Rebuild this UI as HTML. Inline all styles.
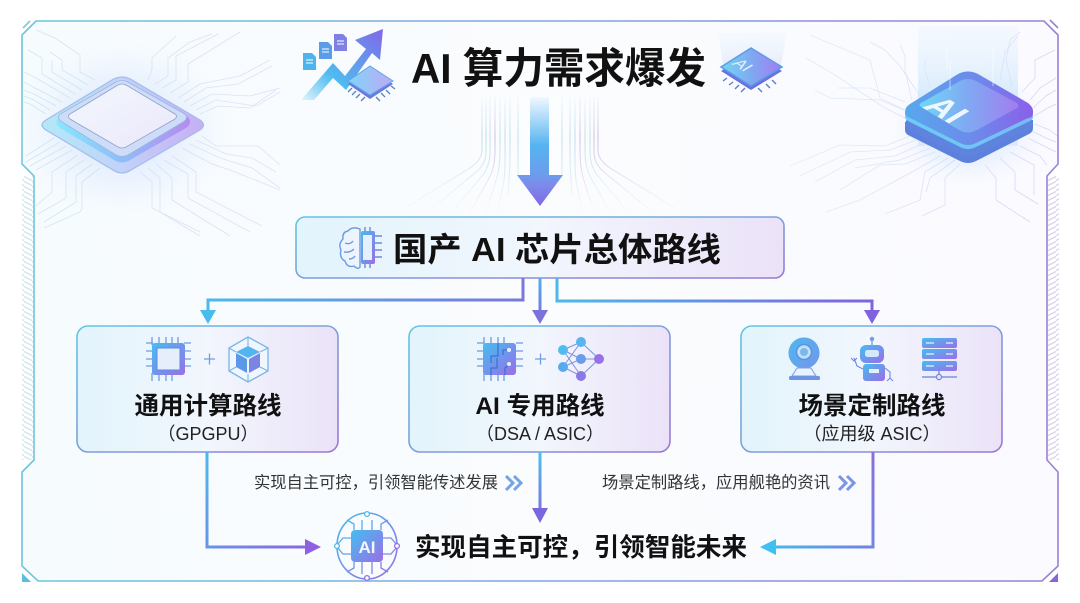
<!DOCTYPE html>
<html lang="zh"><head><meta charset="utf-8"><title>AI 算力需求爆发</title>
<style>html,body{margin:0;padding:0;background:#fff}svg{display:block}
text{font-family:"Liberation Sans","Noto Sans CJK SC",sans-serif;fill:#111}
.b{font-weight:700}</style></head><body>
<svg width="1080" height="603" viewBox="0 0 1080 603" xmlns="http://www.w3.org/2000/svg">
<defs>
<linearGradient id="frameS" gradientUnits="userSpaceOnUse" x1="22" y1="0" x2="1058" y2="0"><stop offset="0" stop-color="#6cc6da"/><stop offset=".5" stop-color="#7fa6e0"/><stop offset="1" stop-color="#9a80d4"/></linearGradient>
<linearGradient id="frameF" x1="0" y1="0" x2="1" y2="0"><stop offset="0" stop-color="#f6fbfe"/><stop offset=".5" stop-color="#fafcfe"/><stop offset="1" stop-color="#fafaff"/></linearGradient>
<linearGradient id="card" x1="0" y1="0" x2="1" y2="0"><stop offset="0" stop-color="#e2f4fc"/><stop offset=".5" stop-color="#f2f6fd"/><stop offset="1" stop-color="#ebe2f8"/></linearGradient>
<linearGradient id="cardS" x1="0" y1="0" x2="1" y2="1"><stop offset="0" stop-color="#62c6e2"/><stop offset="1" stop-color="#9a78d6"/></linearGradient>
<linearGradient id="ic" x1="0" y1="0" x2="1" y2="1"><stop offset="0" stop-color="#45bdf0"/><stop offset="1" stop-color="#9a6ee8"/></linearGradient>
<linearGradient id="conL" gradientUnits="userSpaceOnUse" x1="208" y1="0" x2="523" y2="0"><stop offset="0" stop-color="#4db8ec"/><stop offset="1" stop-color="#7a78dc"/></linearGradient>
<linearGradient id="conR" gradientUnits="userSpaceOnUse" x1="557" y1="0" x2="872" y2="0"><stop offset="0" stop-color="#4db8ec"/><stop offset="1" stop-color="#8064dc"/></linearGradient>
<linearGradient id="conC" gradientUnits="userSpaceOnUse" x1="0" y1="278" x2="0" y2="324"><stop offset="0" stop-color="#55aeea"/><stop offset="1" stop-color="#7c68dc"/></linearGradient>
<linearGradient id="conB" gradientUnits="userSpaceOnUse" x1="0" y1="452" x2="0" y2="523"><stop offset="0" stop-color="#4fc0ee"/><stop offset="1" stop-color="#7c68dc"/></linearGradient>
<linearGradient id="conBL" gradientUnits="userSpaceOnUse" x1="207" y1="452" x2="321" y2="547"><stop offset="0" stop-color="#4db8ec"/><stop offset="1" stop-color="#9060e0"/></linearGradient>
<linearGradient id="conBR" gradientUnits="userSpaceOnUse" x1="873" y1="452" x2="760" y2="547"><stop offset="0" stop-color="#8a70d8"/><stop offset=".5" stop-color="#6f88e0"/><stop offset="1" stop-color="#3fc0f0"/></linearGradient>
<linearGradient id="bigA" gradientUnits="userSpaceOnUse" x1="0" y1="96" x2="0" y2="206"><stop offset="0" stop-color="#f4faff"/><stop offset=".45" stop-color="#55b4f0"/><stop offset=".72" stop-color="#6d9cec"/><stop offset=".8" stop-color="#7c8cec"/><stop offset="1" stop-color="#8268e4"/></linearGradient>
<linearGradient id="rise" x1="0" y1="1" x2="1" y2="0"><stop offset="0" stop-color="#e4f5fd"/><stop offset=".35" stop-color="#4fbcf0"/><stop offset="1" stop-color="#8168e8"/></linearGradient>
<linearGradient id="beam" x1="0" y1="0" x2="0" y2="1"><stop offset="0" stop-color="#e8f4fd" stop-opacity=".4"/><stop offset=".7" stop-color="#c0e0fb" stop-opacity=".95"/><stop offset="1" stop-color="#d8d8fb" stop-opacity=".6"/></linearGradient>
<linearGradient id="beam2" x1="0" y1="0" x2="0" y2="1"><stop offset="0" stop-color="#dff3fc" stop-opacity=".3"/><stop offset="1" stop-color="#d4d8fa"/></linearGradient>
<linearGradient id="lc1" x1="0" y1="0" x2="1" y2="0"><stop offset="0" stop-color="#b4e8f8"/><stop offset=".5" stop-color="#c2d2f8"/><stop offset="1" stop-color="#c6aef4"/></linearGradient>
<linearGradient id="lc2" x1="0" y1="0" x2="1" y2="0"><stop offset="0" stop-color="#86e8fb"/><stop offset=".5" stop-color="#90bcfa"/><stop offset="1" stop-color="#b88af0"/></linearGradient>
<linearGradient id="lc3" x1="0" y1="0" x2="1" y2="1"><stop offset="0" stop-color="#f2f7fd"/><stop offset="1" stop-color="#ebe8fb"/></linearGradient>
<linearGradient id="rcT" x1="0" y1="0" x2="1" y2="0"><stop offset="0" stop-color="#58a8ee"/><stop offset=".6" stop-color="#6f86ea"/><stop offset="1" stop-color="#8c5eea"/></linearGradient>
<linearGradient id="rcF" x1="0" y1="0" x2="1" y2="0"><stop offset="0" stop-color="#70d8f4"/><stop offset=".5" stop-color="#80a8f2"/><stop offset="1" stop-color="#a47cf0"/></linearGradient>
<linearGradient id="scT" x1="0" y1="0" x2="1" y2="0"><stop offset="0" stop-color="#7fd6f6"/><stop offset="1" stop-color="#c0a8f6"/></linearGradient>
<linearGradient id="trL" gradientUnits="userSpaceOnUse" x1="20" y1="0" x2="300" y2="0"><stop offset="0" stop-color="#b4dcea"/><stop offset="1" stop-color="#d4cdf2"/></linearGradient>
<linearGradient id="trR" gradientUnits="userSpaceOnUse" x1="790" y1="0" x2="1058" y2="0"><stop offset="0" stop-color="#d4e8f4"/><stop offset="1" stop-color="#c4c2f0"/></linearGradient>
<radialGradient id="gl"><stop offset="0" stop-color="#a8cdfb" stop-opacity=".7"/><stop offset=".6" stop-color="#d4e2fb" stop-opacity=".4"/><stop offset="1" stop-color="#eef4ff" stop-opacity="0"/></radialGradient>
<radialGradient id="gr"><stop offset="0" stop-color="#7ecdf8" stop-opacity=".75"/><stop offset=".6" stop-color="#b8d8fa" stop-opacity=".3"/><stop offset="1" stop-color="#eef4ff" stop-opacity="0"/></radialGradient>
<pattern id="hL" width="8" height="5" patternUnits="userSpaceOnUse"><path d="M-1 1 L9 6 M-1 -4 L9 1" stroke="#cfe5ec" stroke-width="1.4"/></pattern>
<pattern id="hR" width="8" height="5" patternUnits="userSpaceOnUse"><path d="M-1 6 L9 1 M-1 1 L9 -4" stroke="#d8d4ea" stroke-width="1.4"/></pattern>
<linearGradient id="fanA" gradientUnits="userSpaceOnUse" x1="0" y1="95" x2="0" y2="212"><stop offset="0" stop-color="#b8d8ee" stop-opacity=".1"/><stop offset=".35" stop-color="#a8d0e4" stop-opacity=".8"/><stop offset="1" stop-color="#b8dcec" stop-opacity=".05"/></linearGradient>
<linearGradient id="fanB" gradientUnits="userSpaceOnUse" x1="0" y1="95" x2="0" y2="212"><stop offset="0" stop-color="#c8b8e8" stop-opacity=".1"/><stop offset=".35" stop-color="#bca4de" stop-opacity=".8"/><stop offset="1" stop-color="#cfc4ec" stop-opacity=".05"/></linearGradient>
</defs>

<!-- frame -->
<path d="M36 21 H1044 L1058 35 V164 L1047 176 V460 L1058 472 V566 L1042 581 H38 L22 566 V472 L34 460 V176 L22 164 V35 Z" fill="url(#frameF)" stroke="url(#frameS)" stroke-width="1.6"/>
<path d="M23 28 L30 21" stroke="#84c4d8" stroke-width="1.6" fill="none"/>
<path d="M1050 20 L1058 28" stroke="#9a80d4" stroke-width="1.6" fill="none"/>
<rect x="22" y="176" width="11" height="284" fill="url(#hL)"/>
<rect x="1048" y="176" width="11" height="284" fill="url(#hR)"/>
<path d="M22 573 L31 582 H22 Z" fill="#55c0e2"/>
<path d="M1058 573 L1049 582 H1058 Z" fill="#8a64dc"/>

<!-- left chip traces -->
<ellipse cx="122" cy="128" rx="115" ry="92" fill="url(#gl)" opacity=".75"/>
<g fill="none" stroke="url(#trL)" stroke-width=".8" opacity=".6">
<path d="M95 80 L80 72 V55 L55 38 L36 30"/><path d="M88 85 L62 70 V60 L50 52"/><path d="M82 90 L52 72 V60"/><path d="M75 94 L42 74 V58 L28 50"/>
<path d="M70 98 L36 78 L24 72"/><path d="M62 102 L35 88 L24 82"/><path d="M56 106 L34 94 L24 90"/><path d="M50 110 L34 100 L24 96"/><path d="M46 114 L30 104 L24 102"/>
<path d="M148 80 L152 70 V58 L176 36"/><path d="M155 84 L168 76 V58 L190 42 L212 34"/><path d="M162 88 L176 80 V56 L218 34"/><path d="M170 93 L188 82 V64 L240 32"/>
<path d="M178 98 L200 84 L240 76 L270 60"/><path d="M184 102 L206 88 L238 84 L272 66"/><path d="M190 106 L212 94 L250 96 L280 88"/><path d="M196 110 L216 100 L256 106 L280 92"/><path d="M200 114 L218 106 L250 108 L276 90"/>
<path d="M54 138 L26 156"/><path d="M60 142 L26 162"/><path d="M66 146 L30 166"/><path d="M72 150 L36 170"/><path d="M78 155 L52 172 V192 L36 206"/><path d="M84 160 L66 172 V198 L38 214"/><path d="M92 164 L76 176 V202 L44 222"/><path d="M100 168 L82 182 V208 L80 212 L44 228"/>
<path d="M140 172 L152 182 V208 L200 232"/><path d="M148 168 L160 178 V212 L200 236"/><path d="M156 164 L172 178 V200 L230 236"/><path d="M164 160 L188 174 V198 L250 232"/><path d="M172 156 L196 172 V192 L262 226"/>
<path d="M182 148 L212 164 L230 170 L280 190"/><path d="M190 144 L220 158 L252 168 L280 188"/><path d="M196 140 L226 154 L252 158 L276 172"/><path d="M202 136 L216 146 L258 146 L280 165"/>
</g>

<!-- left chip -->
<path d="M113 170 Q122 176 131 170 L200 130 Q207 125 200 120 L132 80 Q122 74 112 80 L46 120 Q38 125 46 130 Z" fill="url(#lc1)" stroke="#a4bcec" stroke-width="1.3"/>
<path d="M114 160 Q122 165 130 160 L186 128 Q193 123 188 117 L128 84 L60 117 Q53 123 60 128 Z" fill="url(#lc2)"/>
<path d="M116 155 Q122 158 128 155 L183 122 Q190 117 183 113 L128 82 Q122 79 116 82 L62 113 Q55 117 62 122 Z" fill="#cddcf7" stroke="#9ab6e6" stroke-width=".8"/>
<path d="M118 147 Q122 149 126 147 L175 119 Q178 116 175 114 L126 85 Q122 83 118 85 L70 114 Q67 116 70 119 Z" fill="url(#lc3)" stroke="#8f9fca" stroke-width=".8"/>

<!-- right chip traces -->
<g fill="none" stroke="url(#trR)" stroke-width=".8" opacity=".65">
<path d="M905 110 L880 98 L870 60 L810 35"/><path d="M912 100 L905 70 V56 L900 45"/><path d="M920 96 L900 66 L885 50 L870 42"/><path d="M930 88 L925 70 V60"/>
<path d="M905 102 L870 88 L838 88"/><path d="M904 110 L880 100 L830 98 L815 90"/><path d="M905 118 L885 108 L835 75 L806 58"/>
<path d="M1000 80 L1005 52 L1018 36"/><path d="M1012 86 L1006 60 L1010 40 L1020 32"/><path d="M1022 92 L1035 78 V60 L1055 50"/><path d="M1030 100 L1040 88 L1056 78"/><path d="M1033 108 L1046 96 L1056 90"/><path d="M1034 116 L1048 108 L1056 104"/>
<path d="M910 136 L885 146 L840 145 L790 166"/><path d="M916 140 L890 150 L850 152 L800 176"/><path d="M922 144 L895 156 L855 160 L815 182"/><path d="M930 148 L900 160 L855 168"/><path d="M935 152 L905 164 L880 165 L840 190"/><path d="M940 156 L912 172 L860 200 L826 212"/><path d="M948 158 L925 172 L920 200 L885 214"/><path d="M955 160 L930 178 L926 192"/><path d="M960 164 L945 178 V205 L922 216"/>
<path d="M985 165 L996 178 V200 L1030 222"/><path d="M1000 158 L1015 172 V190 L1038 204"/><path d="M1010 152 L1034 165 V195"/><path d="M1020 146 L1040 156 L1047 165"/><path d="M1028 138 L1044 146 L1056 152"/><path d="M1030 130 L1046 138 L1056 142"/><path d="M1034 124 L1050 130 L1057 136"/>
</g>
<ellipse cx="968" cy="128" rx="82" ry="62" fill="url(#gr)" opacity=".7"/>
<rect x="918" y="26" width="100" height="120" fill="url(#beam)" opacity=".75"/>

<!-- right chip -->
<path d="M905 122 V130 Q905 134 910 136 L960 161 Q968 165 976 161 L1029 134 Q1033 132 1033 128 V120 Z" fill="#5c80dc"/>
<path d="M905 125 Q905 120 910 117 L958 92 Q968 88 978 92 L1028 117 Q1033 120 1033 124 V122 Q1033 126 1028 130 L976 155 Q968 159 960 155 L910 131 Q905 128 905 125 Z" fill="#5e84e0"/>
<path d="M905 112 Q905 107 910 104 L958 74 Q968 69 978 74 L1028 103 Q1033 107 1033 111 V116 Q1033 120 1028 122 L976 147 Q968 151 960 147 L910 122 Q905 120 905 116 Z" fill="url(#rcT)"/>
<path d="M905 112 V116 Q905 120 910 122 L960 147 Q968 151 976 147 L1028 122 Q1033 120 1033 116 V112 Q1033 118 1028 118 L976 143 Q968 147 960 143 L910 118 Q905 116 905 112 Z" fill="#74d8f6" opacity=".75"/>
<path d="M921 107 Q918 105 921 103 L960 81 Q968 77 976 81 L1017 103 Q1020 105 1017 108 L977 130 Q968 135 959 130 Z" fill="url(#rcF)"/>
<text x="0" y="0" transform="translate(940,100) matrix(.84 .5 -.84 .5 0 0) translate(-4,18)" class="b" font-size="35" style="fill:#f0f6ff;font-family:'Liberation Sans',sans-serif">AI</text>
<path d="M950 60 V90 M993 46 V86 M947 45 V70" stroke="#fff" stroke-width="1" opacity=".55"/>

<!-- fan lines -->
<g fill="none" stroke-width=".9">
<path d="M482 97 V150 Q482 160 470 168 L405 208" stroke="url(#fanA)"/>
<path d="M486 97 V152 Q486 164 476 172 L430 210" stroke="url(#fanA)"/>
<path d="M490 97 V152 Q490 166 482 176 L452 212" stroke="url(#fanA)"/>
<path d="M495 97 V152 Q495 168 488 180 L470 212" stroke="url(#fanB)"/>
<path d="M500 97 V152 Q500 170 495 184 L486 212" stroke="url(#fanA)"/>
<path d="M505 97 V160 Q505 180 502 190 L498 212" stroke="url(#fanA)"/>
<path d="M510 97 V165 L508 195" stroke="url(#fanA)"/>
<path d="M518 97 V175" stroke="url(#fanA)"/>
<path d="M562 97 V175" stroke="url(#fanA)"/>
<path d="M570 97 V165 L572 195" stroke="url(#fanA)"/>
<path d="M575 97 V160 Q575 180 578 190 L582 212" stroke="url(#fanA)"/>
<path d="M580 97 V152 Q580 170 585 184 L594 212" stroke="url(#fanB)"/>
<path d="M585 97 V152 Q585 168 592 180 L610 212" stroke="url(#fanA)"/>
<path d="M590 97 V152 Q590 166 598 176 L628 212" stroke="url(#fanA)"/>
<path d="M594 97 V152 Q594 164 604 172 L650 210" stroke="url(#fanB)"/>
<path d="M598 97 V150 Q598 160 610 168 L675 208" stroke="url(#fanB)"/>
</g>
<rect x="520" y="97" width="40" height="80" fill="#fbfdff" opacity=".8"/>
<path d="M530 97 H549 V175 H563 L540 206 L517 175 H530 Z" fill="url(#bigA)"/>

<!-- top-left icon -->
<g>
<path d="M301 100 L333 63 L345 76 L366 49 L355 40 L383 29 L380 60 L372 53 L346 90 L333 78 L314 100 Z" fill="url(#rise)"/>
<path d="M303 53 H312 L316 57 V70 H303 Z" fill="#4fb4ec"/>
<path d="M319 42 H328 L332 46 V59 H319 Z" fill="#5a9ce8"/>
<path d="M334 34 H343 L347 38 V51 H334 Z" fill="#7f80e4"/>
<path d="M306 60 H313 M306 63 H313 M322 49 H329 M322 52 H329 M337 41 H344 M337 44 H344" stroke="#fff" stroke-width="1.1"/>
<path d="M352 88 L348 92 M356 91 L352 95 M360 94 L356 98 M365 97 L361 101 M376 97 L380 101 M381 93 L385 97 M386 90 L390 94 M391 86 L395 89" stroke="#5a7ec8" stroke-width="1.3" fill="none"/>
<path d="M348 84 L370 69 L393 84 L370 99 Z" fill="#6a78e0"/>
<path d="M348 81 L370 66 L393 81 L370 95 Z" fill="url(#scT)" stroke="#60a8e8" stroke-width="1"/>
</g>
<!-- top-right icon -->
<path d="M718 33 H787 L780 70 H724 Z" fill="url(#beam2)" opacity=".55"/>
<path d="M727 78 L723 81 M733 82 L729 85 M739 85 L735 89 M745 88 L741 92 M758 88 L762 92 M766 84 L770 88 M772 80 L776 84" stroke="#5a7ec8" stroke-width="1.4" fill="none"/>
<path d="M721 71 L751 90 L782 71 L751 53 Z" fill="#6a70e0"/>
<path d="M721 67 L751 48 L782 67 L751 86 Z" fill="url(#rcF)" stroke="#5c9ce6" stroke-width="1.5"/>
<text transform="translate(738,60) matrix(.84 .5 -.84 .5 0 0) translate(0,8)" font-size="17" style="fill:#e4f0ff">AI</text>

<!-- title -->
<text x="411" y="83" class="b" font-size="42" textLength="295" lengthAdjust="spacingAndGlyphs">AI 算力需求爆发</text>

<!-- mid box -->
<rect x="296" y="217" width="488" height="61" rx="9" fill="url(#card)" stroke="url(#cardS)" stroke-width="1.6"/>
<text x="393" y="261" class="b" font-size="33" textLength="328" lengthAdjust="spacingAndGlyphs">国产 AI 芯片总体路线</text>
<!-- brain chip icon -->
<g fill="none" stroke-width="1.4">
<path d="M360 229 Q352 226 348 231 Q342 232 343 239 Q338 244 341 250 Q339 258 345 261 Q347 268 354 266 Q358 270 360 267 Z" fill="#eef4fd" stroke="#6c9ce0"/>
<path d="M345 243 Q350 245 353 241 M344 252 Q350 253 354 249 M349 259 Q353 259 355 256" stroke="#6c9ce0"/>
<rect x="361" y="231" width="14" height="33" rx="2" fill="url(#ic)" stroke="none"/>
<rect x="363" y="235" width="9" height="25" fill="#e6f0fc" stroke="none"/>
<path d="M365 227 V231 M370 227 V231 M365 264 V268 M370 264 V268 M375 236 H382 M375 243 H382 M375 250 H382 M375 257 H382" stroke="#6c88e0"/>
</g>

<!-- connectors top -->
<g fill="none" stroke-width="3">
<path d="M523 278 V300 H208 V312" stroke="url(#conL)"/>
<path d="M540 278 V312" stroke="url(#conC)"/>
<path d="M557 278 V301 H872 V312" stroke="url(#conR)"/>
</g>
<path d="M200 310 H216 L208 324 Z" fill="#48bced"/>
<path d="M532 310 H548 L540 324 Z" fill="#7b72de"/>
<path d="M864 310 H880 L872 324 Z" fill="#7e62e0"/>

<!-- cards -->
<rect x="77" y="326" width="261" height="126" rx="11" fill="url(#card)" stroke="url(#cardS)" stroke-width="1.6"/>
<rect x="409" y="326" width="261" height="126" rx="11" fill="url(#card)" stroke="url(#cardS)" stroke-width="1.6"/>
<rect x="741" y="326" width="261" height="126" rx="11" fill="url(#card)" stroke="url(#cardS)" stroke-width="1.6"/>
<text x="208" y="414" class="b" font-size="24.5" text-anchor="middle">通用计算路线</text>
<text x="208" y="440" font-size="18" text-anchor="middle" style="fill:#222">（GPGPU）</text>
<text x="540" y="414" class="b" font-size="24.5" text-anchor="middle">AI 专用路线</text>
<text x="540" y="440" font-size="18" text-anchor="middle" style="fill:#222">（DSA / ASIC）</text>
<text x="872" y="414" class="b" font-size="24.5" text-anchor="middle">场景定制路线</text>
<text x="872" y="440" font-size="18" text-anchor="middle" style="fill:#222">（应用级 ASIC）</text>

<!-- card1 icons -->
<g>
<path d="M152 337 V345 M159 337 V345 M166 337 V345 M172 337 V345 M178 337 V345 M152 373 V381 M159 373 V381 M166 373 V381 M172 373 V381 M146 343 H153 M146 351 H153 M146 359 H153 M146 366 H153 M184 343 H191 M184 351 H191 M184 359 H191 M184 366 H191" stroke="#6c9ce2" stroke-width="1.3"/>
<rect x="152" y="343" width="33" height="32" rx="3" fill="url(#ic)"/>
<rect x="157" y="348" width="23" height="22" fill="#e6eefb" stroke="#5c8ce0"/>
<path d="M204 359 H215 M209.500 353.500 V364.500" stroke="#6ea0e4" stroke-width="1.3"/>
<path d="M248 337 L268 348 V371 L248 382 L229 371 V348 Z" fill="#f0f6fd" stroke="#7ab4e6" stroke-width="1.3"/>
<path d="M248 337 V346 M229 348 L236 352 M268 348 L260 352 M229 371 L236 367 M268 371 L260 367 M248 382 V374" stroke="#7ab4e6" stroke-width="1.1"/>
<path d="M248 346 L260 352 L248 358 L236 352 Z" fill="#52b4f0"/>
<path d="M236 353 L247 359 V373 L236 367 Z" fill="#5c98e8"/>
<path d="M260 353 L249 359 V373 L260 367 Z" fill="#7a84e4"/>
</g>
<!-- card2 icons -->
<g>
<path d="M484 337 V345 M491 337 V345 M498 337 V345 M504 337 V345 M484 373 V381 M491 373 V381 M498 373 V381 M504 373 V381 M477 343 H484 M477 351 H484 M477 359 H484 M477 366 H484 M516 343 H523 M516 351 H523 M516 359 H523 M516 366 H523" stroke="#6c9ce2" stroke-width="1.3"/>
<rect x="483" y="343" width="33" height="32" rx="3" fill="url(#ic)"/>
<path d="M498 343 V356 H491 V363 M491 375 V368 H497 V358 M505 375 V368 L510 364 M510 350 L503 350 V355" stroke="#2a6cc8" stroke-width="1" fill="none"/>
<circle cx="509" cy="350" r="2" fill="#e8f0fc"/><circle cx="509" cy="364" r="2" fill="#e8f0fc"/>
<path d="M535 359 H546 M540.500 353.500 V364.500" stroke="#6ea0e4" stroke-width="1.3"/>
<g stroke="#7c92de" stroke-width="1" fill="none"><path d="M563 350 L581 342 L599 359 L581 376 L563 367 L581 359 L599 359 M563 350 L581 359 M563 350 L581 376 M563 367 L581 342"/></g>
<circle cx="563" cy="350" r="5" fill="#50bcf0"/><circle cx="563" cy="367" r="5" fill="#58aaee"/><circle cx="581" cy="342" r="5" fill="#58b4f0"/><circle cx="581" cy="359" r="5" fill="#6a9cea"/><circle cx="581" cy="376" r="5" fill="#8a78e6"/><circle cx="599" cy="359" r="5" fill="#9a70e8"/>
</g>
<!-- card3 icons -->
<g>
<circle cx="804" cy="353" r="15.500" fill="url(#ic)"/>
<circle cx="804" cy="353" r="15.500" fill="#56b4ee" opacity=".55"/>
<circle cx="804" cy="352" r="7.500" fill="#bfe0f8" stroke="#5a94e0" stroke-width="1.500"/>
<circle cx="804" cy="352" r="4" fill="#7ab8f0"/>
<path d="M797 368 L792 376 H816 L811 368 Z" fill="#eaf2fd" stroke="#7aa0e4"/>
<rect x="789" y="376" width="31" height="4" rx="1.500" fill="#6e94e6"/>
<circle cx="872" cy="339" r="2.200" fill="#6ca0e6"/><path d="M872 341 V345" stroke="#6ca0e6" stroke-width="1.300"/>
<rect x="860" y="345" width="24" height="18" rx="6" fill="url(#ic)"/><rect x="865" y="350" width="14" height="7" rx="2.500" fill="#d4e8fb"/>
<rect x="863" y="364" width="22" height="17" rx="3" fill="url(#ic)"/><rect x="869" y="369" width="10" height="4" fill="#e6f0fc"/>
<path d="M863 369 L857 366 L854 358 M851 358 L854 361 L857 358 M885 368 L890 372 V379 M887 381 L890 378 L893 381" stroke="#6c8ade" stroke-width="1.100" fill="none"/>
<rect x="922" y="338" width="35" height="10" rx="2" fill="url(#ic)"/><rect x="922" y="349" width="35" height="10" rx="2" fill="url(#ic)"/><rect x="922" y="361" width="35" height="10" rx="2" fill="url(#ic)"/>
<path d="M926 343 H934 M926 354 H934 M926 366 H934 M946 343 H953 M946 354 H953 M946 366 H953" stroke="#e6f2fe" stroke-width="1.300"/>
<path d="M922 377 H957 M939 371 V374" stroke="#7a94e0" stroke-width="1.500"/><circle cx="939" cy="377" r="2.600" fill="#dfe8fb" stroke="#7a80e0" stroke-width="1.200"/>
</g>

<!-- connectors bottom -->
<g fill="none" stroke-width="3">
<path d="M207 452 V547 H306" stroke="url(#conBL)"/>
<path d="M540 452 V510" stroke="url(#conB)"/>
<path d="M873 452 V547 H774" stroke="url(#conBR)"/>
</g>
<path d="M305 539 L321 547 L305 555 Z" fill="#9060e2"/>
<path d="M532 508 H548 L540 523 Z" fill="#7b68dc"/>
<path d="M776 539 L760 547 L776 555 Z" fill="#40c0f0"/>

<!-- captions -->
<text x="254" y="488" font-size="16.3" style="fill:#333" textLength="244">实现自主可控，引领智能传述发展</text>
<text x="602" y="488" font-size="16.3" style="fill:#333" textLength="228">场景定制路线，应用舰艳的资讯</text>
<path d="M506 476 L513 483 L506 490 M514 476 L521 483 L514 490" fill="none" stroke="#74a4e4" stroke-width="3"/>
<path d="M839 476 L846 483 L839 490 M847 476 L854 483 L847 490" fill="none" stroke="#7c94e4" stroke-width="3"/>

<!-- brain AI -->
<g fill="none" stroke-width="1.300">
<ellipse cx="367" cy="546" rx="30" ry="33" stroke="url(#ic)" stroke-width="1.600"/>
<path d="M354 530 V524 L347 520 M362 530 V520 M372 530 V520 M381 530 V524 L388 520 M351 538 H343 L337 545 M351 554 H343 L337 547 M383 538 H391 L397 545 M383 554 H391 L397 547 M354 562 V568 L347 572 M362 562 V574 M372 562 V574 M381 562 V568 L388 572" stroke="url(#ic)"/>
<circle cx="367" cy="514" r="2.400" fill="#fff" stroke="#50b8e8"/><circle cx="337" cy="546" r="2.400" fill="#fff" stroke="#50b8e8"/><circle cx="397" cy="546" r="2.400" fill="#fff" stroke="#9070e0"/><circle cx="367" cy="578" r="2.400" fill="#fff" stroke="#9070e0"/>
</g>
<rect x="351" y="530" width="32" height="32" rx="4" fill="url(#ic)"/>
<text x="367" y="553" class="b" font-size="17" text-anchor="middle" style="fill:#f2f8ff">AI</text>

<text x="415" y="556" class="b" font-size="25.5" textLength="332" lengthAdjust="spacingAndGlyphs">实现自主可控，引领智能未来</text>
</svg>
</body></html>
